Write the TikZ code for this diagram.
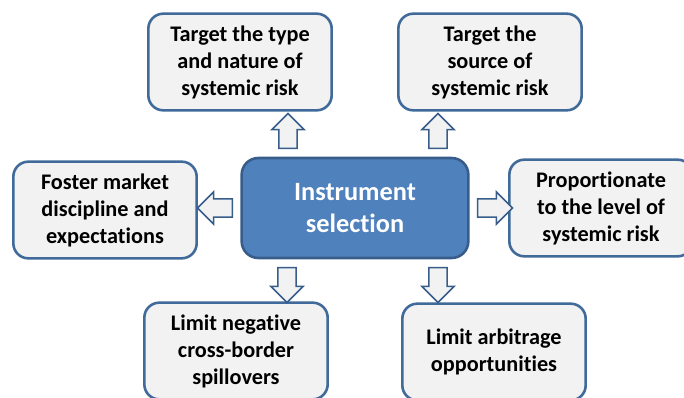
\documentclass[tikz,border=0pt]{standalone}
\usepackage{fontspec}
\setmainfont[Ligatures=NoCommon]{Carlito}
\usetikzlibrary{shapes.arrows}

\definecolor{boxline}{HTML}{3F6A9A}
\definecolor{boxfill}{HTML}{F2F2F2}
\definecolor{mainfill}{HTML}{4F81BD}
\definecolor{mainline}{HTML}{385D8A}

\tikzset{
  goalbox/.style={draw=boxline, fill=boxfill, line width=2.2pt, rounded corners=0.45cm,
    minimum width=5.5cm, minimum height=2.9cm, align=center,
    font=\bfseries\fontsize{19}{23}\selectfont},
  mainbox/.style={draw=mainline, fill=mainfill, line width=2.2pt, rounded corners=0.5cm,
    minimum width=6.8cm, minimum height=3cm, align=center, text=white,
    font=\bfseries\fontsize{22.5}{27.5}\selectfont},
  blockarrow/.style={single arrow, draw=mainline, fill=boxfill, line width=1.3pt,
    minimum height=1.05cm, single arrow head extend=0.21cm,
    inner xsep=0pt, inner ysep=0.25cm}
}

\begin{document}
\begin{tikzpicture}[x=0.03cm, y=-0.03cm]
    \useasboundingbox (0,0) rectangle (684,397);

    % Centre
    \node[mainbox] (select) at (355,208) {Instrument\\selection};

    % Goals
    \node[goalbox] (type) at (240,62) {Target the type\\and nature of\\systemic risk};
    \node[goalbox] (source) at (490,62) {Target the\\source of\\systemic risk};
    \node[goalbox] (market) at (105,210) {Foster market\\discipline and\\expectations};
    \node[goalbox] (level) at (601,208) {Proportionate\\to the level of\\systemic risk};
    \node[goalbox] (spill) at (236,351) {Limit negative\\cross-border\\spillovers};
    \node[goalbox] (arbit) at (494,352) {Limit arbitrage\\opportunities};

    % Arrows
    \node[blockarrow, rotate=90] (up1) at (288,135.5) {};
    \node[blockarrow, rotate=90] (up2) at (438,135.5) {};
    \node[blockarrow, rotate=180] (left) at (219.5,208) {};
    \node[blockarrow] (right) at (490.5,208) {};
    \node[blockarrow, rotate=-90] (down1) at (287,280.5) {};
    \node[blockarrow, rotate=-90] (down2) at (438,280.5) {};
\end{tikzpicture}
\end{document}
